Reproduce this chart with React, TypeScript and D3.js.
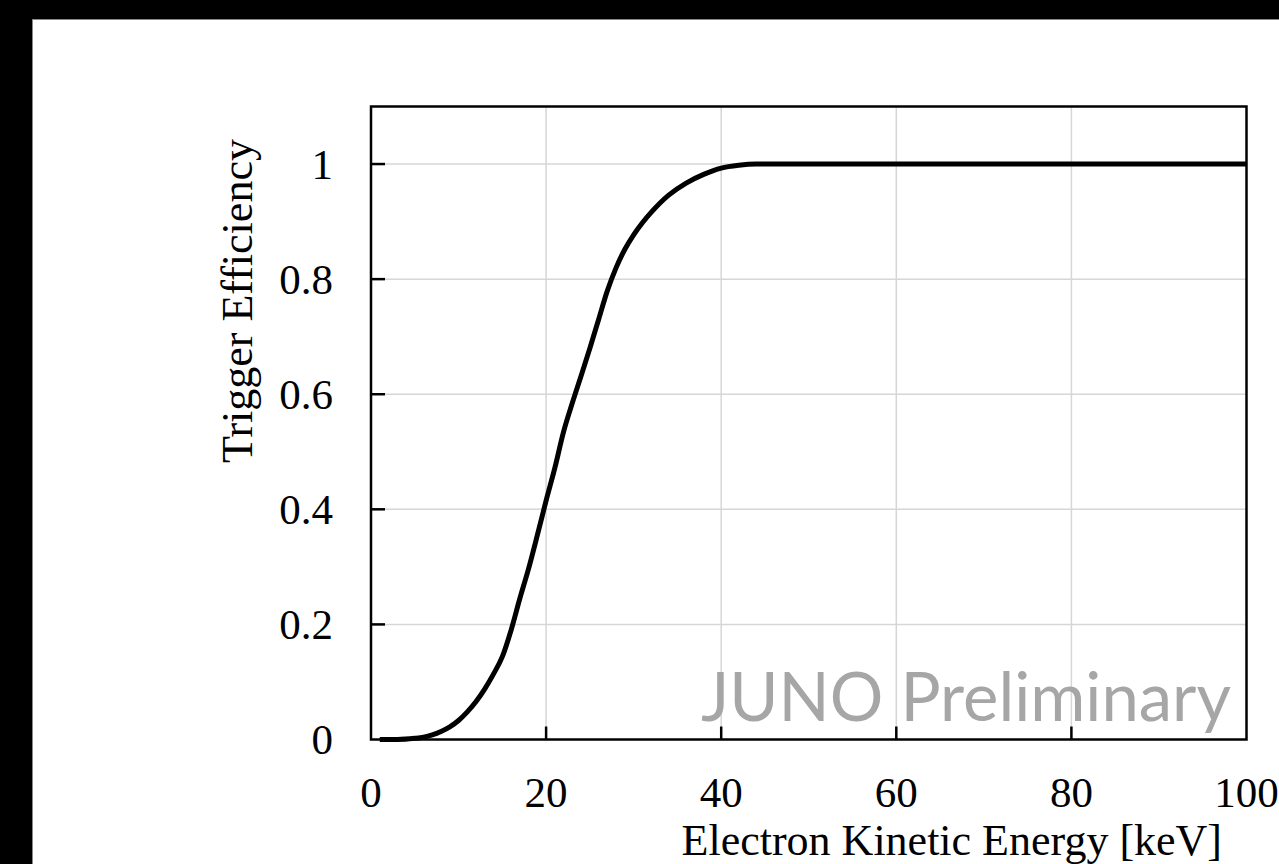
import React, { useEffect, useRef, useState } from 'react';
import * as d3 from 'd3';

// trigger efficiency curve
const energy = [1, 3, 5, 6, 7, 8, 9, 10, 11, 12, 13, 14, 15, 16, 17, 18, 19, 20, 21, 22, 23, 24, 25, 26, 27, 28, 29, 30, 31, 32, 34, 36, 38, 40, 42, 44, 100];
const efficiency = [0, 0, 0.002, 0.004, 0.008, 0.014, 0.022, 0.033, 0.048, 0.066, 0.088, 0.114, 0.144, 0.19, 0.245, 0.297, 0.355, 0.415, 0.472, 0.535, 0.585, 0.632, 0.68, 0.73, 0.78, 0.82, 0.852, 0.877, 0.898, 0.916, 0.946, 0.967, 0.982, 0.993, 0.998, 1, 1];

const xTicks = [0, 20, 40, 60, 80, 100];
const yTicks = [0, 0.2, 0.4, 0.6, 0.8, 1];
const yTickLabels = ['0', '0.2', '0.4', '0.6', '0.8', '1'];

const serif = '"Liberation Serif", "Times New Roman", serif';

const App = () => {
    const width = 1279;
    const height = 864;
    const markRef = useRef<SVGTextElement>(null);
    const [markSize, setMarkSize] = useState(72);

    // fit the watermark to the width it has in the figure
    useEffect(() => {
        const el = markRef.current;
        if (!el) return;
        const w = el.getComputedTextLength();
        if (w > 0 && Math.abs(w - 530) > 2) {
            setMarkSize(s => s * 530 / w);
        }
    }, [markSize]);

    const x = d3.scaleLinear().domain([0, 100]).range([371, 1246.5]);
    const y = d3.scaleLinear().domain([0, 1.1]).range([739.5, 106.5]);

    const line = d3.line<number>()
        .x((d, i) => x(energy[i]))
        .y(d => y(d))
        .curve(d3.curveMonotoneX);

    const [x0, x1] = x.range();
    const [y0, y1] = y.range();

    return (
        <svg
            width={width}
            height={height}
            style={{ position: 'absolute', left: 0, top: 0, display: 'block' }}
        >
            {/* black frame around the slide */}
            <rect x={0} y={0} width={width} height={height} fill="#000" />
            <rect x={32.5} y={19.5} width={width} height={height} fill="#fff" stroke="#888" strokeWidth={1} />

            {/* grid */}
            <g stroke="#d6d6d6" strokeWidth={1.5}>
                {xTicks.slice(1, -1).map(t => (
                    <line key={'gx' + t} x1={x(t)} x2={x(t)} y1={y1} y2={y0} />
                ))}
                {yTicks.slice(1).map(t => (
                    <line key={'gy' + t} x1={x0} x2={x1} y1={y(t)} y2={y(t)} />
                ))}
            </g>

            {/* ticks inside */}
            <g stroke="#000" strokeWidth={2.5}>
                {xTicks.slice(1, -1).map(t => (
                    <line key={'tx' + t} x1={x(t)} x2={x(t)} y1={y0} y2={y0 - 13} />
                ))}
                {yTicks.slice(1).map(t => (
                    <line key={'ty' + t} x1={x0} x2={x0 + 14} y1={y(t)} y2={y(t)} />
                ))}
            </g>

            {/* watermark */}
            <text
                ref={markRef}
                x={1231}
                y={721}
                textAnchor="end"
                fill="#a6a6a6"
                fontFamily='Lato, "Open Sans", sans-serif'
                fontSize={markSize}
            >
                JUNO Preliminary
            </text>

            {/* curve */}
            <path d={line(efficiency) || ''} fill="none" stroke="#000" strokeWidth={5} strokeLinejoin="round" />

            {/* plot frame */}
            <rect x={x0} y={y1} width={x1 - x0} height={y0 - y1} fill="none" stroke="#000" strokeWidth={2.5} />

            {/* tick labels */}
            <g fontFamily={serif} fontSize={43} fill="#000">
                {xTicks.map(t => (
                    <text key={'lx' + t} x={x(t)} y={807} textAnchor="middle">{t}</text>
                ))}
                {yTicks.map((t, i) => (
                    <text key={'ly' + t} x={333} y={y(t) + 14.5} textAnchor="end">{yTickLabels[i]}</text>
                ))}
            </g>

            {/* axis titles */}
            <text x={1222} y={855} textAnchor="end" fontFamily={serif} fontSize={44} fill="#000">
                Electron Kinetic Energy [keV]
            </text>
            <text
                transform={`translate(252, 301) rotate(-90)`}
                textAnchor="middle"
                fontFamily={serif}
                fontSize={44}
                fill="#000"
            >
                Trigger Efficiency
            </text>
        </svg>
    );
};

export default App;
